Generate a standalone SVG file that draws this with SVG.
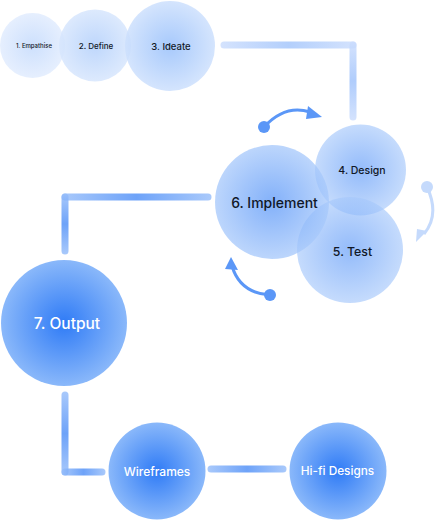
<svg xmlns="http://www.w3.org/2000/svg" width="439" height="520" viewBox="0 0 439 520">
<defs>
<radialGradient id="gPale"><stop offset="0" stop-color="#cde0fd"/><stop offset="1" stop-color="#e6effe"/></radialGradient>
<radialGradient id="gDef"><stop offset="0" stop-color="#b3d0fb"/><stop offset="1" stop-color="#d7e6fd"/></radialGradient>
<radialGradient id="gIde"><stop offset="0" stop-color="#98c0fb"/><stop offset="1" stop-color="#cde0fd"/></radialGradient>
<radialGradient id="gMid"><stop offset="0" stop-color="#5a97f8"/><stop offset="1" stop-color="#a6c8fb"/></radialGradient>
<radialGradient id="gStrong"><stop offset="0" stop-color="#2f7bf6"/><stop offset="1" stop-color="#8ab8fa"/></radialGradient>
<linearGradient id="lH" x1="0" y1="0" x2="1" y2="0"><stop offset="0" stop-color="#94bcfa"/><stop offset="0.5" stop-color="#4a8cf7"/><stop offset="1" stop-color="#94bcfa"/></linearGradient>
<linearGradient id="lV" x1="0" y1="0" x2="0" y2="1"><stop offset="0" stop-color="#94bcfa"/><stop offset="0.5" stop-color="#4a8cf7"/><stop offset="1" stop-color="#94bcfa"/></linearGradient>
<linearGradient id="lHp" x1="0" y1="0" x2="1" y2="0"><stop offset="0" stop-color="#cadcfd"/><stop offset="0.5" stop-color="#a0c3fb"/><stop offset="1" stop-color="#cadcfd"/></linearGradient>
<linearGradient id="lVp" x1="0" y1="0" x2="0" y2="1"><stop offset="0" stop-color="#cadcfd"/><stop offset="0.5" stop-color="#9cc0fb"/><stop offset="1" stop-color="#cadcfd"/></linearGradient>
</defs>
<style>
text{font-family:Inter,"Noto Sans","Liberation Sans",sans-serif;text-anchor:middle;dominant-baseline:central;font-weight:500}
.dk{fill:#111827}
.wt{fill:#ffffff}
.cn{opacity:0.8}
.arr{stroke:#5b97f7;stroke-width:3;fill:none}
</style>
<g id="connectors">
<rect class="cn" x="220.5" y="41.5" width="136" height="7" rx="3.5" fill="url(#lHp)"/>
<rect class="cn" x="349.5" y="41.5" width="7" height="79" rx="3.5" fill="url(#lVp)"/>
<rect class="cn" x="61.5" y="193.5" width="150" height="7" rx="3.5" fill="url(#lH)"/>
<rect class="cn" x="61.5" y="193.5" width="7" height="61" rx="3.5" fill="url(#lV)"/>
<rect class="cn" x="61.5" y="391.5" width="7" height="84" rx="3.5" fill="url(#lV)"/>
<rect class="cn" x="61.5" y="468.5" width="44" height="7" rx="3.5" fill="url(#lH)"/>
<rect class="cn" x="207.5" y="465.5" width="79" height="7" rx="3.5" fill="url(#lH)"/>
</g>
<g id="arrow-top">
<circle cx="264" cy="127" r="6" fill="#5b97f7"/>
<path d="M264,127 Q285,104 310,112" class="arr"/>
<path d="M308,106 L322,117 L306,119 z" fill="#5b97f7"/>
</g>
<g id="arrow-right" opacity="0.35">
<circle cx="427" cy="187" r="6" fill="#5b97f7"/>
<path d="M427,187 Q440,215 424,234" class="arr"/>
<path d="M427,231 L416,242 L417,229 z" fill="#5b97f7"/>
</g>
<g id="arrow-bottom">
<circle cx="270" cy="295" r="6" fill="#5b97f7"/>
<path d="M270,295 Q240,293 232,266" class="arr"/>
<path d="M231,257 L238,270 L225,269 z" fill="#5b97f7"/>
</g>
<g id="n1"><circle cx="32.5" cy="45.5" r="32.5" fill="url(#gPale)"/><text x="34" y="45.5" class="dk" font-size="6">1. Empathise</text></g>
<g id="n2"><circle cx="95" cy="45.5" r="36" fill="url(#gDef)" opacity="0.85"/><text x="96" y="45.5" class="dk" font-size="8">2. Define</text></g>
<g id="n3"><circle cx="170" cy="46" r="45" fill="url(#gIde)" opacity="0.85"/><text x="171" y="46" class="dk" font-size="9.5">3. Ideate</text></g>
<g id="n4"><circle cx="360.5" cy="170" r="45.5" fill="url(#gMid)" opacity="0.65"/><text x="362" y="170" class="dk" font-size="10.5">4. Design</text></g>
<g id="n5"><circle cx="350" cy="250" r="53" fill="url(#gMid)" opacity="0.65"/><text x="352.5" y="251" class="dk" font-size="12.3">5. Test</text></g>
<g id="n6"><circle cx="272" cy="202" r="57" fill="url(#gMid)" opacity="0.75"/><text x="274.5" y="202" class="dk" font-size="14">6. Implement</text></g>
<g id="n7"><circle cx="64" cy="323" r="63" fill="url(#gStrong)"/><text x="67" y="323" class="wt" font-size="15.5">7. Output</text></g>
<g id="n8"><circle cx="157" cy="471" r="48.5" fill="url(#gStrong)"/><text x="157" y="471" class="wt" font-size="12">Wireframes</text></g>
<g id="n9"><circle cx="338" cy="471" r="48.5" fill="url(#gStrong)"/><text x="337.5" y="471" class="wt" font-size="11.8">Hi-fi Designs</text></g>
</svg>
